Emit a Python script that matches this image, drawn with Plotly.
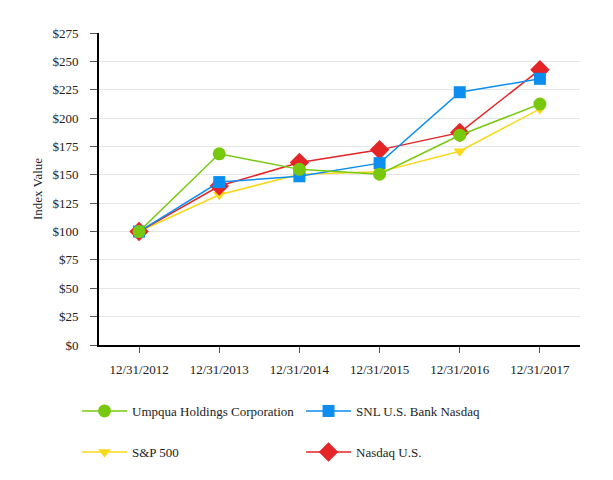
import plotly.graph_objects as go

years = ["12/31/2012", "12/31/2013", "12/31/2014", "12/31/2015", "12/31/2016", "12/31/2017"]
umpqua = [100, 168.5, 154.8, 150.6, 184.9, 212.4]
snl = [100, 143.6, 148.7, 160.3, 222.8, 234.6]
sp500 = [100, 132.4, 150.5, 152.6, 170.8, 208.1]
nasdaq = [100, 140.1, 160.8, 172.0, 187.2, 242.7]
yticks = [0, 25, 50, 75, 100, 125, 150, 175, 200, 225, 250, 275]
ytext = ["$" + str(v) for v in yticks]

GREEN = "#77C80F"
BLUE = "#0C8EF0"
YELLOW = "#F8D81A"
RED = "#E42426"

fig = go.Figure()
fig.add_trace(go.Scatter(x=years, y=sp500, name="S&P 500", mode="lines+markers",
                         line=dict(color=YELLOW, width=1.5),
                         marker=dict(symbol="triangle-down", size=11, color=YELLOW),
                         legend="legend2", legendrank=1))
fig.add_trace(go.Scatter(x=years, y=nasdaq, name="Nasdaq U.S.", mode="lines+markers",
                         line=dict(color=RED, width=1.5),
                         marker=dict(symbol="diamond", size=15, color=RED),
                         legend="legend2", legendrank=2))
fig.add_trace(go.Scatter(x=years, y=snl, name="SNL U.S. Bank Nasdaq", mode="lines+markers",
                         line=dict(color=BLUE, width=1.5),
                         marker=dict(symbol="square", size=12, color=BLUE),
                         legend="legend", legendrank=2))
fig.add_trace(go.Scatter(x=years, y=umpqua, name="Umpqua Holdings Corporation", mode="lines+markers",
                         line=dict(color=GREEN, width=1.5),
                         marker=dict(symbol="circle", size=13, color=GREEN),
                         legend="legend", legendrank=1))

FAM = "Liberation Serif, Times New Roman, serif"
font = dict(family=FAM, size=13, color="#222222")
leg_common = dict(orientation="h", xanchor="left", yanchor="middle",
                  xref="container", yref="container",
                  entrywidth=164, entrywidthmode="pixels", traceorder="normal",
                  itemwidth=45,
                  font=dict(family=FAM, size=13, color="#222222"),
                  bgcolor="rgba(0,0,0,0)")

fig.update_layout(
    width=613, height=480,
    margin=dict(l=91, r=41, t=25, b=143, autoexpand=False),
    paper_bgcolor="white", plot_bgcolor="white",
    font=font,
    showlegend=True,
    legend=dict(x=0.1126, y=0.1604, **leg_common),
    legend2=dict(x=0.1126, y=0.075, **leg_common),
    xaxis=dict(type="category", range=[-0.5, 5.5], showgrid=False,
               showline=True, linecolor="black", linewidth=2,
               ticks="outside", ticklen=6, tickcolor="#555555", tickwidth=1,
               ticklabelstandoff=5,
               tickfont=font, fixedrange=True, automargin=False),
    yaxis=dict(range=[0, 275], tickvals=yticks, ticktext=ytext,
               showgrid=True, gridcolor="#E6E6E6", gridwidth=1,
               showline=True, linecolor="black", linewidth=2,
               ticks="outside", ticklen=7, tickcolor="#555555", tickwidth=1,
               ticklabelstandoff=9,
               tickfont=font, zeroline=False, automargin=False,
               title=dict(text="Index Value", font=font, standoff=7)),
)

fig.write_html("out.html")
